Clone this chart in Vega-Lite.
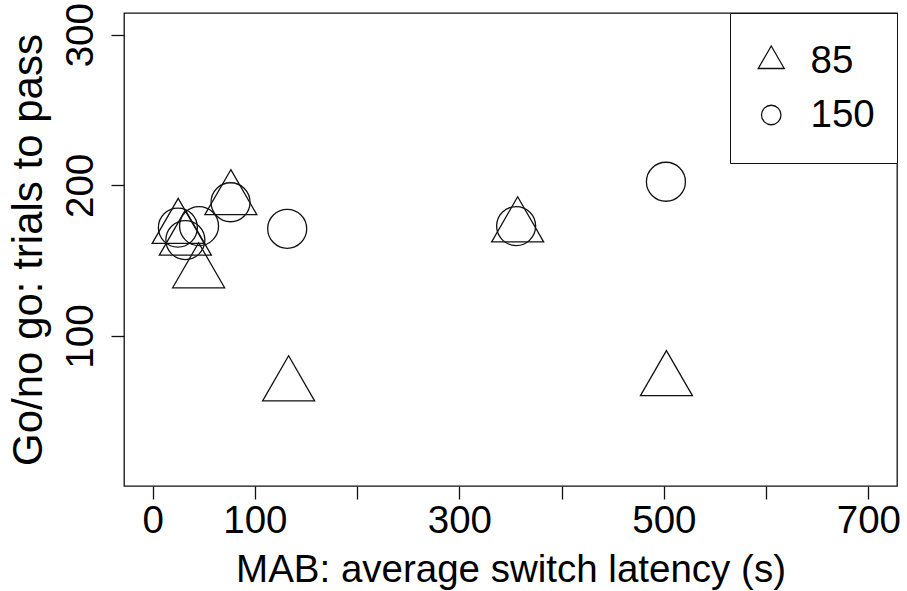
{
  "$schema": "https://vega.github.io/schema/vega-lite/v6.json",
  "autosize": {"type": "none"},
  "padding": {"left": 124, "top": 13, "right": 10, "bottom": 105},
  "width": 773,
  "height": 473,
  "background": "white",
  "config": {
    "font": "Liberation Sans",
    "view": {"stroke": "#111", "strokeWidth": 1.3},
    "axis": {
      "domain": false,
      "grid": false,
      "tickColor": "#111",
      "tickWidth": 1.3,
      "tickSize": 13,
      "labelColor": "black",
      "titleColor": "black",
      "labelFont": "Liberation Sans",
      "titleFont": "Liberation Sans",
      "labelFontSize": 38.5,
      "titleFontSize": 38.5,
      "titleFontWeight": "normal"
    }
  },
  "data": {
    "values": [
      {"latency": 25, "trials": 171.5, "criterion": "85"},
      {"latency": 32, "trials": 163.7, "criterion": "85"},
      {"latency": 45, "trials": 142, "criterion": "85"},
      {"latency": 76.5, "trials": 190.5, "criterion": "85"},
      {"latency": 133, "trials": 67, "criterion": "85"},
      {"latency": 357, "trials": 172.5, "criterion": "85"},
      {"latency": 502.5, "trials": 70.4, "criterion": "85"},
      {"latency": 24.7, "trials": 172, "criterion": "150"},
      {"latency": 32, "trials": 163.7, "criterion": "150"},
      {"latency": 45.4, "trials": 173, "criterion": "150"},
      {"latency": 76.2, "trials": 188.8, "criterion": "150"},
      {"latency": 131.6, "trials": 171.2, "criterion": "150"},
      {"latency": 355.5, "trials": 173, "criterion": "150"},
      {"latency": 502, "trials": 202.4, "criterion": "150"}
    ]
  },
  "mark": {"type": "point", "filled": false, "size": 2704, "stroke": "#111", "strokeWidth": 1.3, "opacity": 1},
  "encoding": {
    "x": {
      "field": "latency",
      "type": "quantitative",
      "scale": {"domain": [-28, 728], "nice": false, "zero": false},
      "axis": {
        "values": [0, 100, 200, 300, 400, 500, 600, 700],
        "labelExpr": "indexof([200, 400, 600], datum.value) >= 0 ? '' : datum.label",
        "labelOverlap": false,
        "labelFlush": false,
        "labelPadding": 3,
        "title": "MAB: average switch latency (s)",
        "titlePadding": 12
      }
    },
    "y": {
      "field": "trials",
      "type": "quantitative",
      "scale": {"domain": [0.5, 314.4], "nice": false, "zero": false},
      "axis": {
        "values": [100, 200, 300],
        "labelAngle": -90,
        "labelAlign": "center",
        "labelBaseline": "bottom",
        "labelPadding": 11,
        "labelOverlap": false,
        "labelFlush": false,
        "title": "Go/no go: trials to pass",
        "titleFontSize": 42,
        "titlePadding": 11
      }
    },
    "shape": {
      "field": "criterion",
      "type": "nominal",
      "scale": {
        "domain": ["85", "150"],
        "range": ["M0,-1.1547L1,0.5774L-1,0.5774Z", "M0.75,0A0.75,0.75,0,1,1,-0.75,0A0.75,0.75,0,1,1,0.75,0Z"]
      },
      "legend": {
        "title": null,
        "orient": "top-right",
        "offset": 0,
        "strokeColor": "#111",
        "fillColor": "white",
        "padding": 22,
        "clipHeight": 52,
        "symbolSize": 676,
        "symbolStrokeWidth": 1.3,
        "symbolStrokeColor": "#111",
        "symbolFillColor": "transparent",
        "labelFontSize": 38.5,
        "labelFont": "Liberation Sans",
        "labelColor": "black",
        "labelOffset": 20,
        "rowPadding": 2
      }
    }
  }
}
